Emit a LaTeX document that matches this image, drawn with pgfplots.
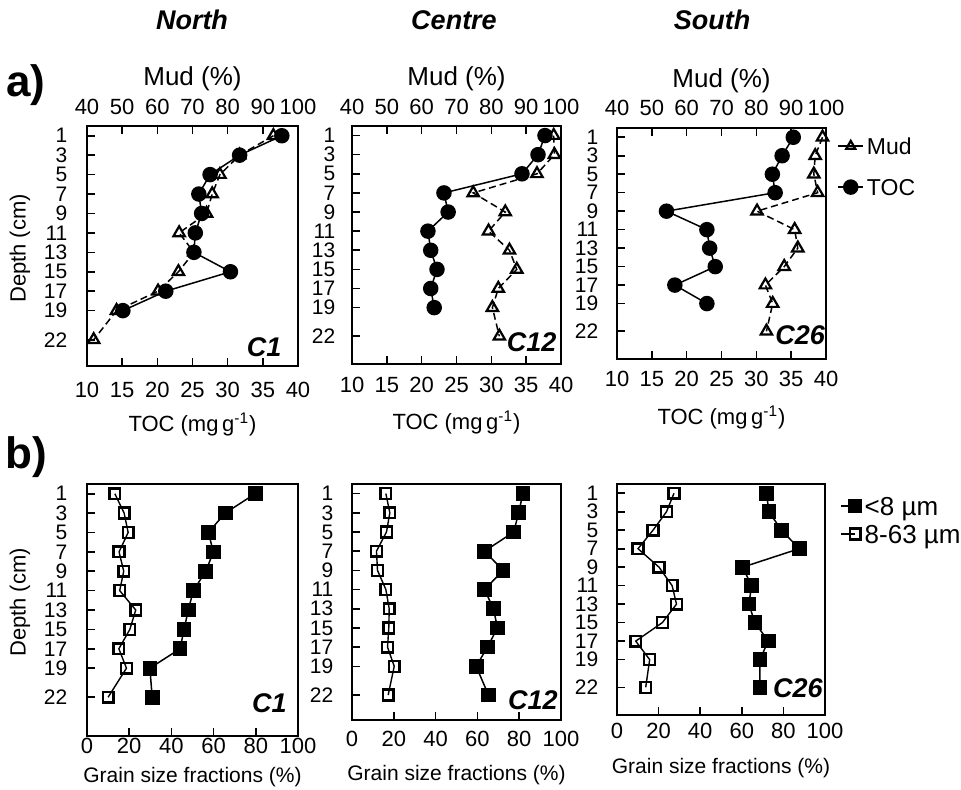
\documentclass[border=0pt]{standalone}
\usepackage{fontspec}
\setmainfont{Liberation Sans}
\usepackage{pgfplots}
\usepackage{pgfplotstable}
\pgfplotsset{compat=1.18}

% depth (cm), TOC (mg/g), mud (%)
\pgfplotstableread{
d toc mud
1 37.7 93.0
3 31.7 83.4
5 27.5 77.8
7 25.9 75.6
9 26.3 74.0
11 25.4 66.2
13 25.2 70.4
15 30.4 66.0
17 21.2 60.2
19 15.1 48.4
22 nan 41.9
}\aNorth
\pgfplotstableread{
d toc mud
1 37.7 97.9
3 36.7 98.1
5 34.4 93.1
7 23.2 74.8
9 23.8 84.0
11 20.9 79.2
13 21.3 85.2
15 22.2 87.3
17 21.3 82.0
19 21.8 80.3
22 nan 82.3
}\aCentre
\pgfplotstableread{
d toc mud
1 35.3 99.0
3 33.7 96.9
5 32.3 96.5
7 32.7 97.6
9 17.1 80.2
11 22.9 91.0
13 23.3 91.9
15 24.1 88.0
17 18.3 82.6
19 22.9 84.7
22 nan 82.9
}\aSouth
% depth (cm), <8 um (%), 8-63 um (%)
\pgfplotstableread{
d fine silt
1 79.7 13.2
3 65.5 17.6
5 57.5 19.5
7 59.9 15.2
9 56.3 17.4
11 50.4 15.5
13 48.0 23.1
15 46.0 20.3
17 44.1 15.1
19 29.8 18.7
22 30.9 10.0
}\bNorth
\pgfplotstableread{
d fine silt
1 81.8 16.2
3 79.7 18.1
5 77.4 16.5
7 63.4 11.7
9 72.3 12.2
11 63.4 16.2
13 67.7 17.8
15 69.6 17.6
17 64.8 17.0
19 59.4 20.2
22 65.3 17.3
}\bCentre
\pgfplotstableread{
d fine silt
1 71.9 27.4
3 73.0 23.8
5 79.1 17.3
7 87.6 10.1
9 60.4 20.2
11 64.7 26.5
13 63.4 28.6
15 66.3 21.8
17 72.7 9.0
19 68.7 15.7
22 68.7 13.8
}\bSouth

\newcommand\tl{\fontsize{11}{11}\selectfont}
\newcommand\ytl{\fontsize{10.5}{10.5}\selectfont}
\newcommand\clab{\fontsize{13.5}{13.5}\selectfont\bfseries\itshape}

\pgfplotsset{
  common/.style={scale only axis, anchor=north west, y dir=reverse, ymin=0,
    ytick={1,3,5,7,9,11,13,15,17,19,22}, ytick pos=left,
    tick align=inside, major tick length=4pt,
    axis line style={line width=0.9pt}, tick style={line width=0.8pt, black},
    /pgf/number format/assume math mode=true,
    xticklabel style={font=\tl}, yticklabel style={font=\ytl},
    clip=false},
  aTOC/.style={common, xmin=10, xmax=40, xtick={10,15,...,40}, xtick pos=left,
    xlabel={TOC (mg\,g\textsuperscript{-1})},
    xlabel style={font=\fontsize{11}{11}\selectfont, at={(axis description cs:0.5,0)}, anchor=center, yshift=-29pt}},
  aMud/.style={common, xmin=40, xmax=100, xtick={40,50,...,100}, xtick pos=right,
    xticklabel pos=right, ytick=\empty,
    xlabel={Mud (\%)},
    xlabel style={font=\fontsize{13}{13}\selectfont, at={(axis description cs:0.5,1)}, anchor=center, yshift=23.5pt}},
  bGS/.style={common, xmin=0, xmax=100, xtick={0,20,...,100}, xtick pos=left,
    xlabel={Grain size fractions (\%)},
    xlabel style={font=\fontsize{10.5}{10.5}\selectfont, at={(axis description cs:0.5,0)}, anchor=center}},
  depthlab/.style={ylabel={Depth (cm)},
    ylabel style={font=\fontsize{11}{11}\selectfont, at={(axis description cs:#1)}, anchor=center}},
  tocst/.style={black, solid, line width=0.75pt, mark=*, mark size=3.5pt},
  mudst/.style={black, dash pattern=on 3.5pt off 2pt, line width=0.75pt, mark=triangle,
    mark size=3.3pt, mark options={solid, line width=1.1pt}},
  finest/.style={black, solid, line width=0.75pt, mark=square*, mark size=3.3pt},
  siltst/.style={black, solid, line width=0.7pt, mark=square, mark size=2.7pt,
    mark options={solid, line width=1.2pt}},
}

\begin{document}
\begin{tikzpicture}
\path[use as bounding box] (0,0) rectangle (480.5pt,-394.5pt);

\node[font=\fontsize{13.5}{13.5}\selectfont\bfseries\itshape] at (96pt,-10pt) {North};
\node[font=\fontsize{13.5}{13.5}\selectfont\bfseries\itshape] at (227pt,-10pt) {Centre};
\node[font=\fontsize{13.5}{13.5}\selectfont\bfseries\itshape] at (356pt,-10pt) {South};
\node[font=\fontsize{22}{22}\selectfont\bfseries] at (13pt,-42.5pt) {a)};
\node[font=\fontsize{22}{22}\selectfont\bfseries] at (13pt,-228.5pt) {b)};

% ---------- a) North
\begin{axis}[aTOC, at={(43.5pt,-63pt)}, width=105.5pt, height=120pt, ymax=24.7,
  xticklabel style={yshift=-4.4pt}, yticklabel style={xshift=-6.3pt},
  depthlab={-0.3175,0.49}]
\addplot[tocst] table[x=toc, y=d] {\aNorth};
\node[anchor=east, inner sep=0pt, font=\clab] at (axis cs:37.7,22.8) {C1};
\end{axis}
\begin{axis}[aMud, at={(43.5pt,-63pt)}, width=105.5pt, height=120pt, ymax=24.7,
  xticklabel style={yshift=1.9pt}]
\addplot[mudst] table[x=mud, y=d] {\aNorth};
\end{axis}

% ---------- a) Centre
\begin{axis}[aTOC, at={(176pt,-63pt)}, width=104.5pt, height=119pt, ymax=24.9,
  xticklabel style={yshift=-2.9pt}, yticklabel style={xshift=-4.8pt}]
\addplot[tocst] table[x=toc, y=d] {\aCentre};
\node[anchor=east, inner sep=0pt, font=\clab] at (axis cs:39.4,22.6) {C12};
\end{axis}
\begin{axis}[aMud, at={(176pt,-63pt)}, width=104.5pt, height=119pt, ymax=24.9,
  xticklabel style={yshift=1.9pt}]
\addplot[mudst] table[x=mud, y=d] {\aCentre};
\end{axis}

% ---------- a) South
\begin{axis}[aTOC, at={(308.5pt,-64pt)}, width=104.5pt, height=115.5pt, ymax=25,
  xticklabel style={yshift=-2.4pt}, yticklabel style={xshift=-5.8pt},
  legend style={at={(1.053,0.833)}, anchor=west, draw=none, fill=none, inner sep=0pt,
    font=\fontsize{11.5}{11.5}\selectfont, row sep=9pt,
    nodes={inner sep=1.5pt, text height=8.5pt, text depth=0pt}},
  legend cell align=left,
  legend image code/.code={\draw[mark repeat=2, mark phase=2] plot coordinates {(0pt,0pt) (6.25pt,0pt) (12.5pt,0pt)};}]
\addlegendimage{mudst, solid, mark size=2.6pt}
\addlegendentry{Mud}
\addplot[tocst] table[x=toc, y=d] {\aSouth};
\addlegendentry{TOC}
\node[anchor=east, inner sep=0pt, font=\clab] at (axis cs:39.9,22.4) {C26};
\end{axis}
\begin{axis}[aMud, at={(308.5pt,-64pt)}, width=104.5pt, height=115.5pt, ymax=25,
  xticklabel style={yshift=2.6pt}]
\addplot[mudst] table[x=mud, y=d] {\aSouth};
\end{axis}

% ---------- b) North
\begin{axis}[bGS, at={(43.5pt,-242pt)}, width=105.5pt, height=126pt, ymax=26,
  xticklabel style={yshift=2.7pt}, yticklabel style={xshift=-6.3pt},
  xlabel style={yshift=-20.75pt}, depthlab={-0.3175,0.53}]
\addplot[siltst] table[x=silt, y=d] {\bNorth};
\addplot[finest] table[x=fine, y=d] {\bNorth};
\node[anchor=east, inner sep=0pt, font=\clab] at (axis cs:94.8,22.6) {C1};
\end{axis}

% ---------- b) Centre
\begin{axis}[bGS, at={(176pt,-242pt)}, width=104.5pt, height=118pt, ymax=24.6,
  xticklabel style={yshift=-1.9pt}, yticklabel style={xshift=-5.8pt},
  xlabel style={yshift=-27.75pt}]
\addplot[siltst] table[x=silt, y=d] {\bCentre};
\addplot[finest] table[x=fine, y=d] {\bCentre};
\node[anchor=east, inner sep=0pt, font=\clab] at (axis cs:98.6,22.5) {C12};
\end{axis}

% ---------- b) South
\begin{axis}[bGS, at={(308.5pt,-242pt)}, width=104pt, height=115.5pt, ymax=25,
  xticklabel style={yshift=-0.7pt}, yticklabel style={xshift=-5.8pt},
  xlabel style={yshift=-26.75pt},
  legend style={at={(1.072,0.844)}, anchor=west, draw=none, fill=none, inner sep=0pt,
    font=\fontsize{13}{13}\selectfont, row sep=2pt,
    nodes={inner sep=1.5pt, text height=9pt, text depth=0pt}},
  legend cell align=left,
  legend image code/.code={\draw[mark repeat=2, mark phase=2] plot coordinates {(0pt,0pt) (7pt,0pt)};}]
\addplot[finest] table[x=fine, y=d] {\bSouth};
\addlegendentry{<8 µm}
\addplot[siltst] table[x=silt, y=d] {\bSouth};
\addlegendentry{8-63 µm}
\node[anchor=east, inner sep=0pt, font=\clab] at (axis cs:99,22.1) {C26};
\end{axis}
\end{tikzpicture}
\end{document}
